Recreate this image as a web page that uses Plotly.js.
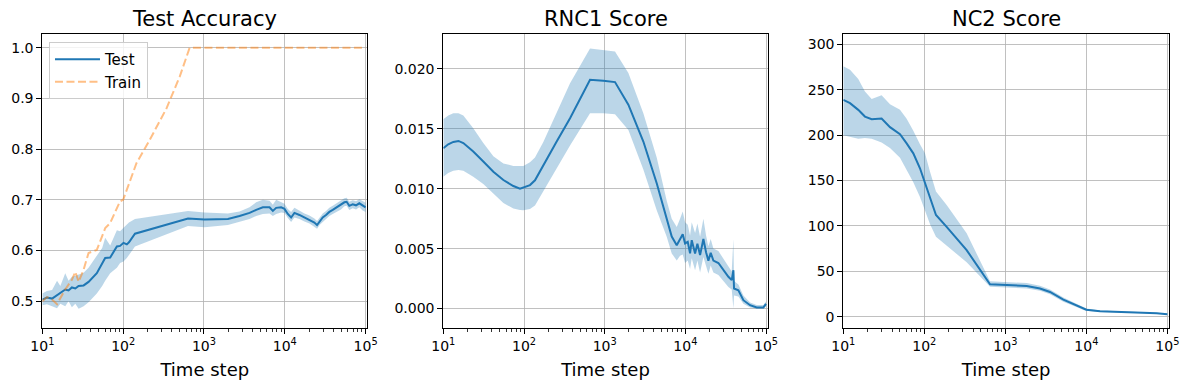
<!DOCTYPE html>
<html>
<head>
<meta charset="utf-8">
<script src="https://cdn.plot.ly/plotly-3.0.1.min.js"></script>
<style>html,body{margin:0;padding:0;background:#fff;}#chart{width:1189px;height:390px;}</style>
</head>
<body>
<div id="chart"></div>
<script>
// ---------- Data ----------
const titles = ['Test Accuracy', 'RNC1 Score', 'NC2 Score'];
const xLabel = 'Time step';
const xTickVals = [10, 100, 1000, 10000, 100000];
const xTickText = ['10<sup>1</sup>', '10<sup>2</sup>', '10<sup>3</sup>', '10<sup>4</sup>', '10<sup>5</sup>'];

// Panel 1: Test accuracy (mean and band), Train accuracy
const accSteps = [10, 11.4, 13.2, 15.2, 16.7, 19.2, 21.1, 23.2, 25.6, 28.1,
  32.4, 37.3, 47.2, 55, 59.9, 69.1, 83.6, 91.6, 101, 111,
  118, 140, 634, 1018, 1977, 2754, 3664, 4426, 5346, 6471,
  7112, 7816, 9016, 9908, 10890, 11970, 13150, 15170, 17500, 20180,
  23230, 25060, 27290, 29440, 32360, 35560, 39170, 43850, 49550, 54580,
  58210, 62810, 69180, 76030, 83560, 91830, 100000];
const accTest = [0.503, 0.507, 0.505, 0.512, 0.515, 0.523, 0.521, 0.527, 0.525, 0.530,
  0.531, 0.538, 0.555, 0.574, 0.585, 0.586, 0.608, 0.609, 0.615, 0.612,
  0.616, 0.633, 0.663, 0.661, 0.662, 0.668, 0.674, 0.680, 0.685, 0.685,
  0.678, 0.684, 0.685, 0.682, 0.672, 0.665, 0.674, 0.670, 0.665, 0.661,
  0.655, 0.650, 0.659, 0.665, 0.670, 0.676, 0.680, 0.685, 0.689, 0.695,
  0.696, 0.688, 0.691, 0.689, 0.693, 0.688, 0.685];
const accTestUpper = [0.515, 0.520, 0.522, 0.540, 0.530, 0.555, 0.540, 0.548, 0.550, 0.553,
  0.556, 0.566, 0.590, 0.605, 0.625, 0.610, 0.640, 0.638, 0.645, 0.650,
  0.655, 0.662, 0.678, 0.675, 0.673, 0.677, 0.685, 0.695, 0.700, 0.698,
  0.690, 0.700, 0.696, 0.692, 0.682, 0.676, 0.684, 0.678, 0.673, 0.669,
  0.663, 0.658, 0.667, 0.673, 0.678, 0.684, 0.688, 0.693, 0.697, 0.703,
  0.704, 0.696, 0.699, 0.697, 0.701, 0.697, 0.694];
const accTestLower = [0.492, 0.494, 0.490, 0.486, 0.495, 0.490, 0.500, 0.488, 0.495, 0.485,
  0.490, 0.498, 0.515, 0.530, 0.540, 0.555, 0.566, 0.575, 0.578, 0.585,
  0.590, 0.608, 0.648, 0.646, 0.650, 0.656, 0.662, 0.668, 0.672, 0.673,
  0.668, 0.672, 0.675, 0.674, 0.664, 0.656, 0.665, 0.662, 0.657, 0.653,
  0.647, 0.643, 0.651, 0.657, 0.662, 0.668, 0.672, 0.677, 0.681, 0.687,
  0.688, 0.680, 0.683, 0.681, 0.685, 0.679, 0.676];
const trainSteps = [10, 11.4, 13.2, 15.2, 19.2, 23.2, 25.6, 28.1, 32.4, 37.3,
  47.2, 55, 60, 69, 91.6, 100, 121, 146, 213, 343, 501, 665, 1000, 10000, 100000];
const accTrain = [0.500, 0.508, 0.503, 0.494, 0.523, 0.542, 0.558, 0.538, 0.562, 0.595,
  0.601, 0.628, 0.644, 0.654, 0.697, 0.700, 0.736, 0.772, 0.818, 0.880, 0.943, 1.0, 1.0, 1.0, 1.0];

// Panel 2: RNC1 score
const rncSteps = [10, 11.5, 13.3, 15.4, 17.7, 23.5, 31.3, 41.7, 55.5, 73.8,
  89.2, 98, 118.6, 136.8, 173.6, 254, 372, 658, 962, 1342,
  1965, 3013, 4413, 5870, 6775, 7814, 8594, 9271, 9909, 10700,
  11430, 11990, 13190, 14090, 15210, 16720, 18040, 19290, 20610, 22240,
  25660, 29590, 34140, 37530, 39370, 40100, 45390, 52360, 63370, 76580,
  92650, 100000];
const rncMean = [0.01337, 0.0137, 0.0139, 0.01398, 0.0138, 0.0131, 0.01226, 0.01142, 0.01072, 0.01022,
  0.0100, 0.01008, 0.0103, 0.0107, 0.01198, 0.01393, 0.01588, 0.01908, 0.0190, 0.01889,
  0.0170, 0.01393, 0.01045, 0.00752, 0.0060, 0.00529, 0.00585, 0.0062, 0.00543, 0.00557,
  0.0046, 0.0057, 0.0046, 0.0054, 0.00446, 0.0058, 0.0047, 0.0040, 0.00465, 0.0040,
  0.0038, 0.0032, 0.00265, 0.00237, 0.0032, 0.00167, 0.00153, 0.0007, 0.00028, 0.0001,
  0.0001, 0.0004];
const rncUpper = [0.0158, 0.0161, 0.0163, 0.0163, 0.0161, 0.01504, 0.0138, 0.0127, 0.0121, 0.0119,
  0.01189, 0.0119, 0.0122, 0.0126, 0.0139, 0.0163, 0.0188, 0.0217, 0.0216, 0.02145,
  0.01964, 0.0163, 0.0126, 0.0090, 0.0075, 0.0068, 0.0075, 0.0081, 0.0072, 0.0070,
  0.0061, 0.0072, 0.0063, 0.0071, 0.0060, 0.0075, 0.0061, 0.0052, 0.0058, 0.0050,
  0.0048, 0.0042, 0.0036, 0.0031, 0.0058, 0.0023, 0.0020, 0.0011, 0.0005, 0.0003,
  0.0003, 0.0006];
const rncLower = [0.0110, 0.0113, 0.0115, 0.01156, 0.0115, 0.0110, 0.0104, 0.0096, 0.0088, 0.00835,
  0.00822, 0.0082, 0.0083, 0.0086, 0.0099, 0.0117, 0.0136, 0.0163, 0.0163, 0.0162,
  0.0149, 0.0116, 0.0082, 0.0060, 0.0046, 0.0040, 0.0044, 0.0045, 0.0038, 0.0040,
  0.0033, 0.0042, 0.0032, 0.0040, 0.0030, 0.0043, 0.0035, 0.0029, 0.0036, 0.0030,
  0.0028, 0.0023, 0.0018, 0.0016, 0.0000, 0.0011, 0.0010, 0.0004, 0.0001, 0.0000,
  0.0000, 0.0002];

// Panel 3: NC2 score
const nc2Steps = [10, 12.1, 15.3, 18.5, 22.4, 29.7, 37.7, 50.1, 60.5, 73.1,
  88.4, 101.9, 117.4, 139.3, 188.7, 333, 647, 1000, 1834, 2677,
  3560, 5200, 8350, 9190, 10000, 14750, 21550, 34580, 55580, 73830, 100000];
const nc2Mean = [239, 235.3, 227.9, 220.5, 217.6, 218.3, 208.8, 201, 191, 180,
  163.5, 147, 132, 112, 99, 73.3, 35.7, 35, 33.9, 31,
  27.2, 18.8, 10.7, 8.5, 7.7, 5.9, 5.5, 5.2, 4.8, 3.7, 2.6];
const nc2Upper = [276, 272, 262, 248, 240, 244, 234, 228, 218, 205,
  190, 180, 160, 138, 123, 92, 39, 38.5, 37, 34,
  30, 21, 12.5, 10, 9, 6.8, 6.3, 6, 5.5, 4.4, 3.2];
const nc2Lower = [200, 198, 196, 197, 196, 192, 186, 175, 162, 148,
  132, 118, 102, 88, 78, 60, 33, 32.5, 31, 28.5,
  24.8, 16.5, 9, 7.3, 6.6, 5.1, 4.8, 4.5, 4.2, 3.1, 2.0];

// ---------- Styles ----------
const BLUE = '#1f77b4';
const BAND = 'rgba(31,119,180,0.3)';
const ORANGE = 'rgba(255,127,14,0.5)';
const FONT = 'DejaVu Sans';

function band(xs, up, lo, xa, ya) {
  return {
    x: xs.concat(xs.slice().reverse()),
    y: up.concat(lo.slice().reverse()),
    xaxis: xa, yaxis: ya, type: 'scatter', mode: 'lines',
    fill: 'toself', fillcolor: BAND, line: {width: 0, color: BAND},
    showlegend: false, hoverinfo: 'skip'
  };
}
function line(xs, ys, xa, ya, opts) {
  return Object.assign({
    x: xs, y: ys, xaxis: xa, yaxis: ya, type: 'scatter', mode: 'lines',
    line: {color: BLUE, width: 2}, showlegend: false
  }, opts || {});
}

const traces = [
  band(accSteps, accTestUpper, accTestLower, 'x', 'y'),
  line(accSteps, accTest, 'x', 'y', {name: 'Test', showlegend: true}),
  line(trainSteps, accTrain, 'x', 'y', {name: 'Train', showlegend: true,
    line: {color: ORANGE, width: 2, dash: '8px,3.5px'}}),
  band(rncSteps, rncUpper, rncLower, 'x2', 'y2'),
  line(rncSteps, rncMean, 'x2', 'y2'),
  band(nc2Steps, nc2Upper, nc2Lower, 'x3', 'y3'),
  line(nc2Steps, nc2Mean, 'x3', 'y3')
];

function xaxis(domain, anchor) {
  return {
    domain: domain, anchor: anchor, type: 'log', range: [1, 5.02],
    tickvals: xTickVals, ticktext: xTickText,
    ticks: 'outside', ticklen: 5, tickwidth: 1, tickcolor: '#000',
    minor: {ticks: 'outside', ticklen: 3, tickwidth: 0.8, tickcolor: '#000', dtick: 'D1', showgrid: false},
    showgrid: true, gridcolor: '#b0b0b0', gridwidth: 0.8,
    showline: true, linecolor: '#000', linewidth: 1, mirror: true,
    zeroline: false, automargin: false,
    tickfont: {family: FONT, size: 14, color: '#000'},
    title: {text: xLabel, font: {family: FONT, size: 18, color: '#000'}, standoff: 10}
  };
}
function yaxis(range, dtick, fmt, anchor) {
  return {
    domain: [0, 1], anchor: anchor, range: range, dtick: dtick, tick0: 0, tickformat: fmt,
    ticks: 'outside', ticklen: 5, tickwidth: 1, tickcolor: '#000',
    showgrid: true, gridcolor: '#b0b0b0', gridwidth: 0.8,
    showline: true, linecolor: '#000', linewidth: 1, mirror: true,
    zeroline: false, automargin: false,
    tickfont: {family: FONT, size: 14, color: '#000'}
  };
}

const doms = [[0.0003, 0.2886], [0.3561, 0.6439], [0.7110, 1.0]];

const layout = {
  width: 1189, height: 390,
  margin: {l: 42, r: 20, t: 34, b: 62},
  paper_bgcolor: '#fff', plot_bgcolor: '#fff',
  font: {family: FONT, color: '#000'},
  xaxis: xaxis(doms[0], 'y'),
  xaxis2: xaxis(doms[1], 'y2'),
  xaxis3: xaxis(doms[2], 'y3'),
  yaxis: yaxis([0.447, 1.027], 0.1, '.1f', 'x'),
  yaxis2: yaxis([-0.00162, 0.0229], 0.005, '.3f', 'x2'),
  yaxis3: yaxis([-12.5, 311.5], 50, 'd', 'x3'),
  showlegend: true,
  legend: {
    x: 0.0062, y: 0.973, xanchor: 'left', yanchor: 'top',
    itemwidth: 45,
    bgcolor: 'rgba(255,255,255,0.8)', bordercolor: '#cccccc', borderwidth: 1,
    font: {family: FONT, size: 15, color: '#000'}
  },
  annotations: titles.map((t, i) => ({
    text: t, xref: 'paper', yref: 'paper',
    x: (doms[i][0] + doms[i][1]) / 2, y: 1.051,
    xanchor: 'center', yanchor: 'middle', showarrow: false,
    font: {family: FONT, size: 21, color: '#000'}
  }))
};

Plotly.newPlot('chart', traces, layout, {displayModeBar: false, staticPlot: true});
</script>
</body>
</html>
